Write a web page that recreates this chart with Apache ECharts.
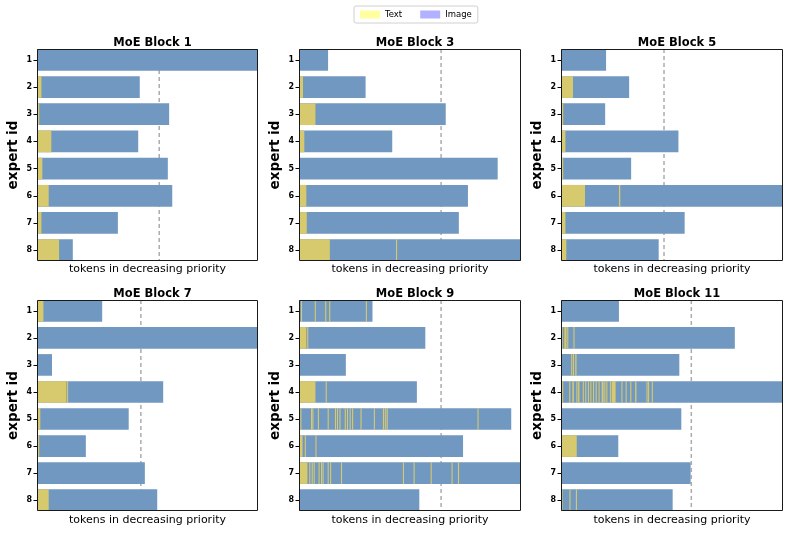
<!DOCTYPE html>
<html>
<head>
<meta charset="utf-8">
<script src="https://cdn.jsdelivr.net/npm/echarts@6/dist/echarts.min.js"></script>
<style>
html,body{margin:0;padding:0;background:#fff;}
#chart{width:789px;height:533px;}
</style>
</head>
<body>
<div id="chart"></div>
<script>
// ---------------- data ----------------
const expertIds = [1, 2, 3, 4, 5, 6, 7, 8];
const blockTitles = ['MoE Block 1', 'MoE Block 3', 'MoE Block 5', 'MoE Block 7', 'MoE Block 9', 'MoE Block 11'];
const legendNames = ['Text', 'Image'];
const xLabel = 'tokens in decreasing priority';
const yLabel = 'expert id';
// expert capacity (dashed line), in % of the axis
const capacity = [55.3, 64.0, 46.4, 47.0, 64.0, 58.7];

// total tokens routed to each expert (bar length, % of axis)
const block1Lengths = [100, 46.5, 59.8, 45.8, 59.2, 61.2, 36.6, 16.2];
const block3Lengths = [13.1, 30.0, 66.1, 42.0, 89.5, 76.1, 72.0, 100];
const block5Lengths = [20.3, 30.7, 19.9, 52.9, 31.6, 100, 55.7, 44.0];
const block7Lengths = [29.5, 100, 6.8, 57.1, 41.5, 22.1, 48.8, 54.4];
const block9Lengths = [33.1, 56.9, 21.1, 53.1, 95.6, 73.9, 100, 54.2];
const block11Lengths = [26.1, 78.3, 53.3, 100, 54.2, 25.8, 58.4, 50.3];

// positions occupied by text tokens, [start, end] spans per expert
const block1Text = [[], [[0, 2]], [[0, 1]], [[0, 6.5]], [[0, 2.4]], [[0, 5.3]], [[0, 2]], [[0, 10]]];
const block3Text = [[], [[0, 1.8]], [[0, 7.4]], [[0, 2.4]], [], [[0, 3.3]], [[0, 3.5]], [[0, 13.9], [43.7, 44.1]]];
const block5Text = [[], [[0, 5.4]], [[0, 1.0]], [[0, 2.0]], [[0, 1.0]], [[0, 10.8], [26.1, 26.7]], [[0, 2.0]], [[0, 2.4]]];
const block7Text = [[[0, 2.9]], [], [], [[0, 13.3], [13.6, 14.0]], [[0, 1.5]], [[0, 1.0]], [], [[0, 5.3]]];
const block9Text = [
  [[0.9, 1.3], [7.1, 7.5], [11.8, 12.2], [13.6, 14.0], [30.1, 30.5]],
  [[0, 3.3], [3.7, 4.1]],
  [],
  [[0, 7.4], [12.0, 12.4]],
  [[0.6, 1.0], [5.4, 5.8], [6.0, 6.5], [8.5, 8.9], [12.9, 13.3], [16.2, 16.6], [17.1, 17.5], [18.2, 18.6], [20.6, 21.0], [21.6, 22.0], [22.8, 23.2], [23.9, 24.3], [27.7, 28.1], [33.7, 34.1], [37.8, 38.4], [38.8, 39.2], [39.5, 39.9], [80.4, 80.8]],
  [[0, 1.6], [2.6, 3.0], [7.4, 7.8]],
  [[0, 3.8], [4.6, 5.0], [5.7, 6.1], [6.6, 7.0], [8.8, 9.2], [9.9, 10.3], [10.6, 11.0], [12.9, 13.3], [14.0, 14.4], [18.9, 19.3], [46.8, 47.2], [51.6, 52.0], [59.3, 59.7], [68.7, 69.1], [71.6, 72.0]],
  []
];
const block11Text = [
  [],
  [[0.3, 0.7], [1.5, 2.5], [2.8, 3.2], [5.6, 6.0]],
  [[4.6, 5.0], [5.4, 5.9], [6.4, 7.0]],
  [[0.5, 0.9], [3.7, 4.2], [5.1, 5.8], [6.9, 7.4], [7.7, 8.3], [9.8, 10.2], [10.9, 11.3], [12.1, 12.5], [13.2, 13.6], [14.4, 14.8], [15.6, 16.0], [16.9, 17.3], [18.3, 19.2], [19.5, 19.9], [20.4, 20.8], [22.0, 22.4], [22.8, 24.6], [27.2, 27.6], [29.1, 29.5], [31.2, 31.6], [33.4, 34.0], [38.5, 38.9], [39.2, 39.6], [40.9, 41.3]],
  [],
  [[0, 7.1]],
  [],
  [[0.2, 0.6], [3.8, 4.2], [6.7, 7.1]]
];

const allLengths = [block1Lengths, block3Lengths, block5Lengths, block7Lengths, block9Lengths, block11Lengths];
const allText = [block1Text, block3Text, block5Text, block7Text, block9Text, block11Text];

// ---------------- layout / style ----------------
const FONT = 'DejaVu Sans';
const IMAGE_COLOR = '#7198c1';
const TEXT_COLOR = '#d7c96d';
const colLeft = [37, 299, 561];
const colWidth = [221, 222, 222];
const rowTop = [49, 300];
const rowHeight = [212, 211];

const chart = echarts.init(document.getElementById('chart'), null, {renderer: 'canvas'});

function barRenderer(color) {
  return function (params, api) {
    const s = api.value(0), e = api.value(1), y = api.value(2);
    const p0 = api.coord([s, y]);
    const p1 = api.coord([e, y]);
    const h = api.size([0, 0.8])[1];
    const w = Math.max(p1[0] - p0[0], 1.1);
    return {
      type: 'rect',
      shape: {x: p0[0], y: p0[1] - h / 2, width: w, height: h},
      style: {fill: color}
    };
  };
}

const grids = [], xAxes = [], yAxes = [], titles = [], series = [];
for (let i = 0; i < 6; i++) {
  const r = Math.floor(i / 3), c = i % 3;
  grids.push({left: colLeft[c], top: rowTop[r], width: colWidth[c], height: rowHeight[r], containLabel: false});
  titles.push({
    text: blockTitles[i],
    left: colLeft[c] + colWidth[c] / 2,
    top: rowTop[r] - 17,
    textAlign: 'center',
    textStyle: {fontFamily: FONT, fontSize: 11.5, fontWeight: 'bold', color: '#000'}
  });
  xAxes.push({
    gridIndex: i, type: 'value', min: 0, max: 100,
    name: xLabel, nameLocation: 'middle', nameGap: r === 0 ? 3 : 4,
    nameTextStyle: {fontFamily: FONT, fontSize: 11, color: '#000'},
    axisLine: {show: false}, axisTick: {show: false}, axisLabel: {show: false}, splitLine: {show: false}
  });
  yAxes.push({
    gridIndex: i, type: 'value', min: 0.6, max: 8.4, inverse: true,
    name: yLabel, nameLocation: 'middle', nameGap: 17, nameRotate: 90,
    nameTextStyle: {fontFamily: FONT, fontSize: 13.5, fontWeight: 'bold', color: '#000'},
    axisLine: {show: false},
    axisTick: {show: true, length: 3.5, customValues: expertIds, lineStyle: {color: '#000', width: 1}},
    axisLabel: {show: true, customValues: expertIds, fontFamily: FONT, fontSize: 8, fontWeight: 'bold', color: '#000', margin: 5},
    splitLine: {show: false}
  });

  // capacity dashed line (behind bars)
  series.push({
    type: 'custom', name: 'capacity', xAxisIndex: i, yAxisIndex: i, silent: true,
    encode: {x: 0, y: [1, 2]},
    data: [[capacity[i], 0.6, 8.4]],
    renderItem: function (params, api) {
      const a = api.coord([api.value(0), api.value(1)]);
      const b = api.coord([api.value(0), api.value(2)]);
      return {type: 'line', shape: {x1: a[0], y1: a[1], x2: b[0], y2: b[1]},
        style: {stroke: '#acacac', lineWidth: 1.5, lineDash: [4, 3]}};
    }
  });

  const imgData = allLengths[i].map((len, k) => [0, len, expertIds[k]]);
  const txtData = [];
  allText[i].forEach((spans, k) => spans.forEach(sp => txtData.push([sp[0], sp[1], expertIds[k]])));

  series.push({
    type: 'custom', name: 'Image', xAxisIndex: i, yAxisIndex: i, silent: true,
    itemStyle: {color: '#b1b1ff'},
    encode: {x: [0, 1], y: 2}, data: imgData, renderItem: barRenderer(IMAGE_COLOR)
  });
  series.push({
    type: 'custom', name: 'Text', xAxisIndex: i, yAxisIndex: i, silent: true,
    itemStyle: {color: '#ffffa0'},
    encode: {x: [0, 1], y: 2}, data: txtData, renderItem: barRenderer(TEXT_COLOR)
  });
  // frame
  series.push({
    type: 'custom', name: 'frame', xAxisIndex: i, yAxisIndex: i, silent: true, z: 5,
    encode: {x: 0, y: 1}, data: [[0, 1]],
    renderItem: function (params) {
      const cs = params.coordSys;
      return {type: 'rect', shape: {x: cs.x + 0.5, y: cs.y + 0.5, width: cs.width - 1, height: cs.height - 1},
        style: {fill: null, stroke: '#1a1a1a', lineWidth: 1}};
    }
  });
}

chart.setOption({
  animation: false,
  backgroundColor: '#fff',
  textStyle: {fontFamily: FONT},
  title: titles,
  legend: {
    left: 354, top: 6,
    selectedMode: false,
    icon: 'rect', itemWidth: 20, itemHeight: 8, itemGap: 18,
    padding: [4, 6], borderColor: '#d0d0d0', borderWidth: 1, borderRadius: 2,
    textStyle: {fontFamily: FONT, fontSize: 8.5, color: '#000'},
    data: [
      {name: legendNames[0], itemStyle: {color: '#ffffa0'}},
      {name: legendNames[1], itemStyle: {color: '#b1b1ff'}}
    ]
  },
  grid: grids,
  xAxis: xAxes,
  yAxis: yAxes,
  series: series
});
</script>
</body>
</html>
